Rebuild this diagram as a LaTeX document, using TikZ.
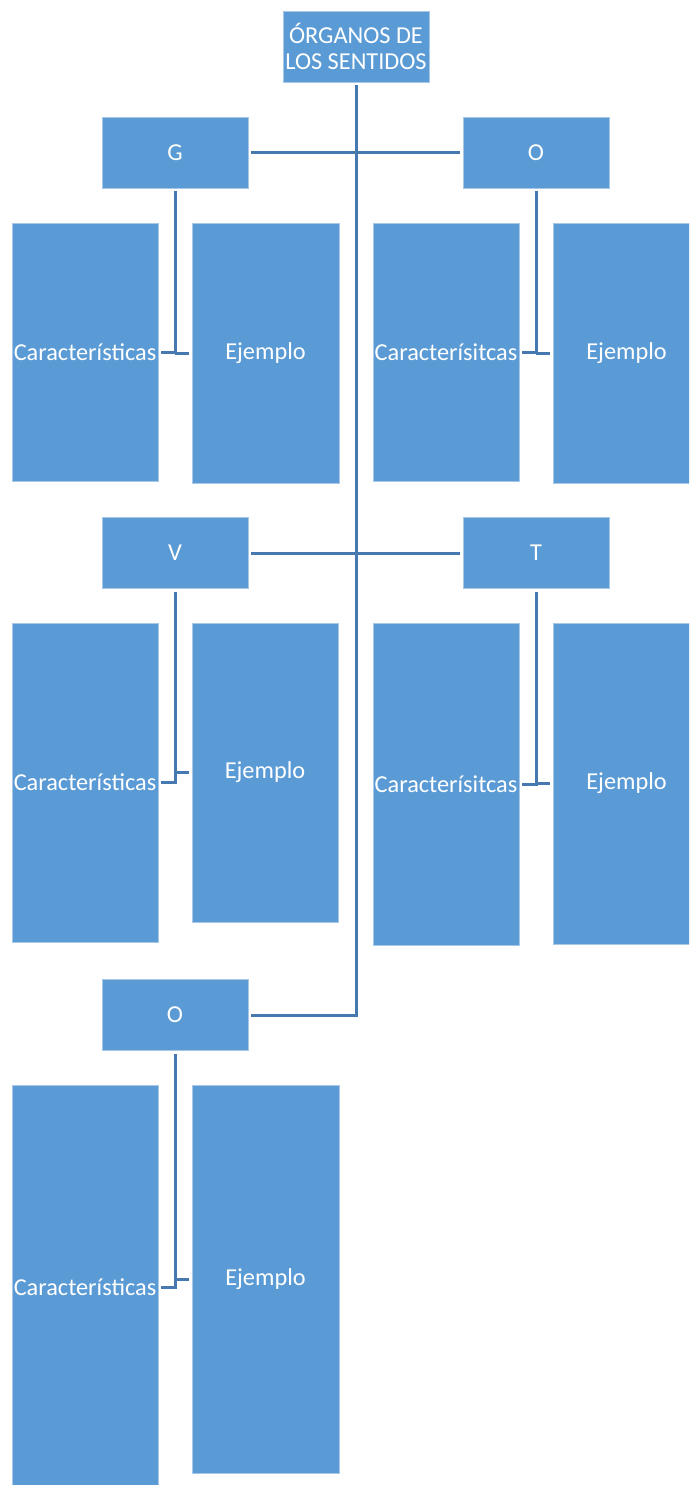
\documentclass[tikz,border=0pt]{standalone}
\usepackage{fontspec}
\setmainfont{Carlito}
\definecolor{boxblue}{HTML}{5B9BD5}
\definecolor{lineblue}{HTML}{4679B0}
\definecolor{edgeblue}{HTML}{A9C8E8}
\begin{document}
\begin{tikzpicture}[x=1pt,y=-1pt,
  box/.style={rectangle, fill=boxblue, draw=edgeblue, line width=0.8pt,
    inner sep=0pt, outer sep=3pt, text=white, align=center,
    font=\fontsize{24.3}{26}\selectfont},
  head/.style={box, minimum width=146pt, minimum height=71pt},
  conn/.style={draw=lineblue, line width=3pt}
]
\clip (0,0) rectangle (689,1485);
\fill[white] (0,0) rectangle (689,1485);

% top
\node[head] (org) at (356,46.5) {ÓRGANOS DE\\LOS SENTIDOS};

% row 1
\node[head] (g)  at (175,152.5) {G};
\node[head] (o1) at (536,152.5) {O};
\node[box, minimum width=146pt, minimum height=258pt] (gc) at (85,352) {Características};
\node[box, minimum width=147pt, minimum height=260pt] (ge) at (265.5,353) {Ejemplo};
\node[box, minimum width=146pt, minimum height=258pt] (oc) at (446,352) {Caracterísitcas};
\node[box, minimum width=147pt, minimum height=260pt] (oe) at (626.5,353) {Ejemplo};

% row 2
\node[head] (v) at (175,553) {V};
\node[head] (t) at (536,553) {T};
\node[box, minimum width=146pt, minimum height=319pt] (vc) at (85,782.5) {Características};
\node[box, minimum width=146pt, minimum height=299pt] (ve) at (265,772.5) {Ejemplo};
\node[box, minimum width=146pt, minimum height=322pt] (tc) at (446,784) {Caracterísitcas};
\node[box, minimum width=147pt, minimum height=321pt] (te) at (626.5,783.5) {Ejemplo};

% row 3
\node[head] (o2) at (175,1015) {O};
\node[box, minimum width=146pt, minimum height=405pt] (oc2) at (85,1287.5) {Características};
\node[box, minimum width=147pt, minimum height=388pt] (oe2) at (265.5,1279) {Ejemplo};

% main connectors
\draw[conn] (org.south) -- (org.south |- o2.east) -- (o2.east);
\draw[conn] (g.east) -- (o1.west);
\draw[conn] (v.east) -- (t.west);

% branch connectors
\draw[conn] (g.south) -- (g.south |- gc.east) -- (gc.east);
\draw[conn] (g.south |- ge.west) -- (ge.west);
\draw[conn] (o1.south) -- (o1.south |- oc.east) -- (oc.east);
\draw[conn] (o1.south |- oe.west) -- (oe.west);

\draw[conn] (v.south) -- (v.south |- vc.east) -- (vc.east);
\draw[conn] (v.south |- ve.west) -- (ve.west);
\draw[conn] (t.south) -- (t.south |- tc.east) -- (tc.east);
\draw[conn] (t.south |- te.west) -- (te.west);

\draw[conn] (o2.south) -- (o2.south |- oc2.east) -- (oc2.east);
\draw[conn] (o2.south |- oe2.west) -- (oe2.west);
\end{tikzpicture}
\end{document}
